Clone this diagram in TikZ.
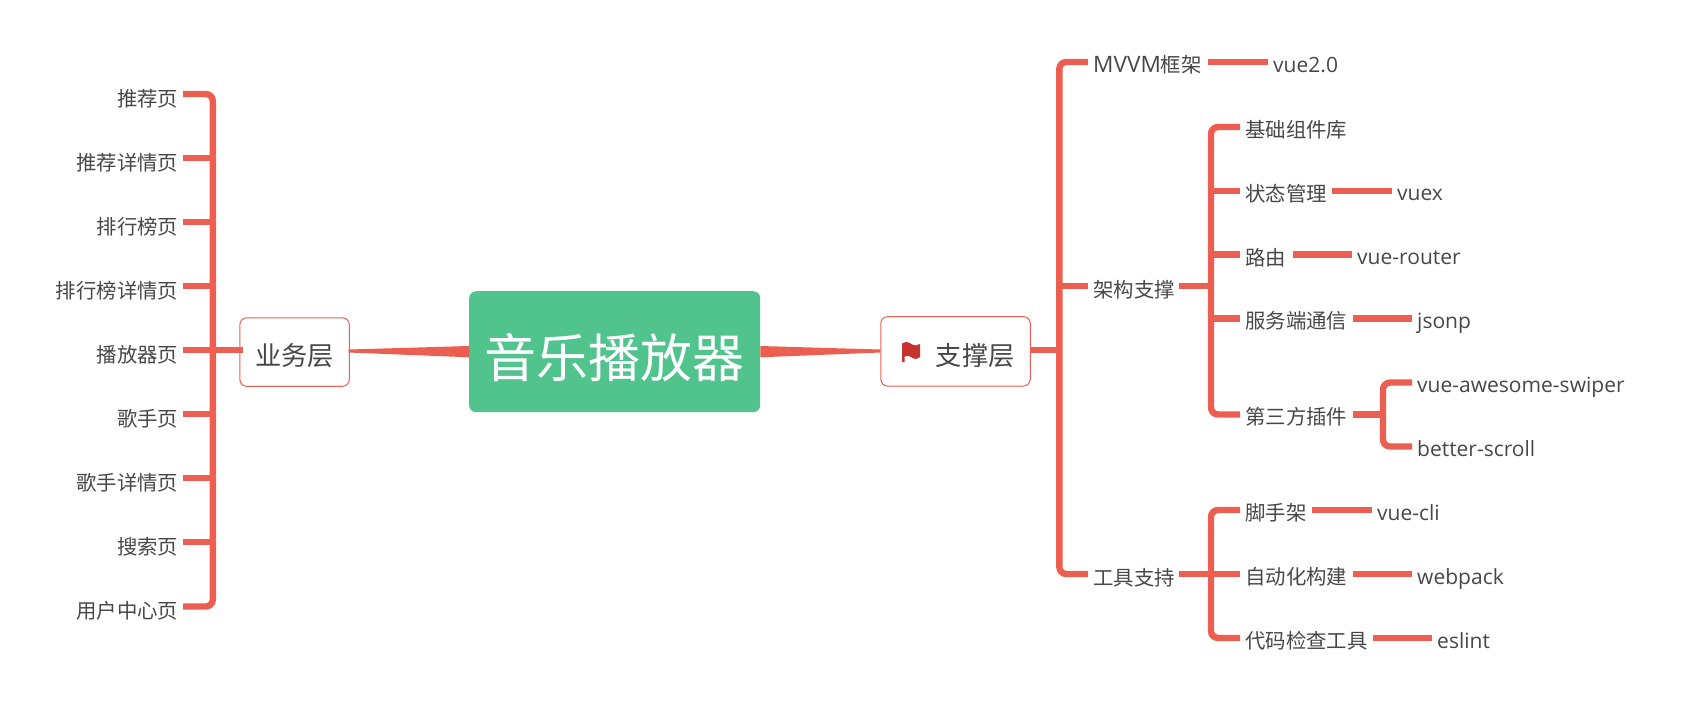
\documentclass[tikz,border=0pt]{standalone}
\usepackage{fontspec}
\setmainfont{Noto Sans CJK SC}
\newfontfamily\latf{Open Sans}
\definecolor{linec}{HTML}{EC5F50}
\definecolor{txtc}{HTML}{474747}
\definecolor{rootc}{HTML}{51C48D}
\definecolor{flagc}{HTML}{C8332F}
\tikzset{
  conn/.style={draw=linec,line width=6.4pt,line cap=butt,line join=round},
  trunk/.style={conn,rounded corners=7pt},
  wedge/.style={fill=linec,draw=none},
  lbl/.style={inner sep=0pt,text=txtc,font=\fontsize{20.4}{24}\selectfont,text height=17.6pt,text depth=2.4pt},
  lble/.style={lbl,anchor=east},
  lblw/.style={lbl,anchor=west},
  latin/.style={lblw,font=\fontsize{21}{24}\selectfont\latf},
  topic/.style={draw=linec,line width=1pt,rounded corners=7pt,fill=white,inner sep=0pt,anchor=north west},
  roottopic/.style={fill=rootc,rounded corners=7pt,inner sep=0pt,anchor=north west,text=white}
}
\begin{document}
\begin{tikzpicture}[x=1pt,y=-1pt]
\useasboundingbox (0,0) rectangle (1688,705);
% central and main topics
\node[roottopic,minimum width=291pt,minimum height=121pt] (root) at (469,291) {};
\node[text=white,inner sep=0pt,font=\fontsize{52}{60}\selectfont] (roottxt) at (614.5,358) {音乐播放器};
\node[topic,minimum width=109.5pt,minimum height=68.5pt] (biz) at (239.3,317.3) {};
\node[lbl,font=\fontsize{26.2}{30}\selectfont,text height=22.5pt,text depth=3pt] (biztxt) at (294.3,356) {业务层};
\node[topic,minimum width=149.5pt,minimum height=69.5pt] (sup) at (880.3,316.1) {};
\node[lbl,font=\fontsize{26.2}{30}\selectfont,text height=22.5pt,text depth=3pt] (suptxt) at (975.2,356) {支撑层};
% flag icon
\fill[flagc] (902,343.5) .. controls (906,341) and (909,342) .. (912,344.5) .. controls (915,346) and (917,345.5) .. (920,344) -- (920,357) .. controls (917,359.5) and (914,359.5) .. (911,357) .. controls (909,355.5) and (907,355.5) .. (904.5,356.5) -- (904.5,362) -- (902,362) -- cycle;
% wedges
\coordinate (wl) at (348.7,351);
\coordinate (wr) at (880.3,351);
\fill[wedge] ([yshift=1.5pt]wl) -- (root.west |- 0,346) -- (root.west |- 0,357.3) -- ([yshift=-1.5pt]wl) -- cycle;
\fill[wedge] ([yshift=1.5pt]wr) -- (root.east |- 0,346) -- (root.east |- 0,357.3) -- ([yshift=-1.5pt]wr) -- cycle;
% left leaves
\node[lble] (l1) at (178.5,98.5) {推荐页};
\node[lble] (l2) at (178.5,162.5) {推荐详情页};
\node[lble] (l3) at (178.5,226.5) {排行榜页};
\node[lble] (l4) at (178.5,290.5) {排行榜详情页};
\node[lble] (l5) at (178.5,354.5) {播放器页};
\node[lble] (l6) at (178.5,418.5) {歌手页};
\node[lble] (l7) at (178.5,482.5) {歌手详情页};
\node[lble] (l8) at (178.5,546.5) {搜索页};
\node[lble] (l9) at (178.5,611) {用户中心页};
\coordinate (lt) at (212.8,0);
\foreach \n/\y in {1/94,2/158,3/222,4/286,5/350,6/414,7/478,8/542,9/606.5}{\coordinate (le\n) at (183,\y);}
\draw[trunk] (le1) -- (lt |- le1) -- (lt |- le9) -- (le9);
\foreach \n in {2,3,4,6,7,8}{\draw[conn] (le\n) -- (lt |- le\n);}
\coordinate (bizstub) at (243,350);
\draw[conn] (le5) -- (bizstub);
% right level 1
\node[lblw] (r1) at (1093,65) {\latf\fontsize{22.6}{24}\selectfont MVVM\rmfamily\fontsize{20.4}{24}\selectfont 框架};
\node[lblw] (r2) at (1093,290) {架构支撑};
\node[lblw] (r3) at (1093,577.5) {工具支持};
\coordinate (rt) at (1059.3,0);
\foreach \n/\y in {1/62,2/286,3/574}{\coordinate (re\n) at (1088,\y);}
\draw[trunk] (re1) -- (rt |- re1) -- (rt |- re3) -- (re3);
\draw[conn] (re2) -- (rt |- re2);
\coordinate (supr) at (1029.7,350);
\draw[conn] (supr) -- (rt |- supr);
% MVVM child
\node[latin] (v1) at (1273,65) {vue2.0};
\coordinate (v1a) at (1208,62);
\coordinate (v1b) at (1268,62);
\draw[conn] (v1a) -- (v1b);
% architecture children
\node[lblw] (a1) at (1245,130) {基础组件库};
\node[lblw] (a2) at (1245,194) {状态管理};
\node[lblw] (a3) at (1245,257.5) {路由};
\node[lblw] (a4) at (1245,321) {服务端通信};
\node[lblw] (a5) at (1245,417) {第三方插件};
\coordinate (at) at (1211,0);
\foreach \n/\y in {1/127,2/191,3/254.5,4/318.5,5/414.5}{\coordinate (ae\n) at (1240,\y);}
\draw[trunk] (ae1) -- (at |- ae1) -- (at |- ae5) -- (ae5);
\foreach \n in {2,3,4}{\draw[conn] (ae\n) -- (at |- ae\n);}
\coordinate (r2s) at (1179,286);
\draw[conn] (r2s) -- (at |- r2s);
% architecture grandchildren
\node[latin] (b2) at (1397,193) {vuex};
\node[latin] (b3) at (1357,256.5) {vue-router};
\node[latin] (b4) at (1417,320.5) {jsonp};
\coordinate (b2a) at (1332,191); \coordinate (b2b) at (1392,191);
\coordinate (b3a) at (1293,254.5); \coordinate (b3b) at (1352,254.5);
\coordinate (b4a) at (1353,318.5); \coordinate (b4b) at (1412,318.5);
\draw[conn] (b2a) -- (b2b);
\draw[conn] (b3a) -- (b3b);
\draw[conn] (b4a) -- (b4b);
% plugins
\node[latin] (p1) at (1417,384.5) {vue-awesome-swiper};
\node[latin] (p2) at (1417,448.5) {better-scroll};
\coordinate (pt) at (1383,0);
\coordinate (p1e) at (1412,382.5);
\coordinate (p2e) at (1412,446.5);
\coordinate (p0) at (1353,414.5);
\draw[trunk] (p1e) -- (pt |- p1e) -- (pt |- p2e) -- (p2e);
\draw[conn] (p0) -- (pt |- p0);
% tools children
\node[lblw] (t1) at (1245,513) {脚手架};
\node[lblw] (t2) at (1245,577) {自动化构建};
\node[lblw] (t3) at (1245,641) {代码检查工具};
\coordinate (tt) at (1211,0);
\foreach \n/\y in {1/510,2/574,3/638}{\coordinate (te\n) at (1240,\y);}
\coordinate (r3s) at (1179,574);
\draw[trunk] (te1) -- (tt |- te1) -- (tt |- te3) -- (te3);
\draw[conn] (r3s) -- (te2);
% tools grandchildren
\node[latin] (c1) at (1377,512.5) {vue-cli};
\node[latin] (c2) at (1417,576.5) {webpack};
\node[latin] (c3) at (1437,640.5) {eslint};
\coordinate (c1a) at (1312,510); \coordinate (c1b) at (1372,510);
\coordinate (c2a) at (1353,574); \coordinate (c2b) at (1412,574);
\coordinate (c3a) at (1372.5,638); \coordinate (c3b) at (1432,638);
\draw[conn] (c1a) -- (c1b);
\draw[conn] (c2a) -- (c2b);
\draw[conn] (c3a) -- (c3b);
\end{tikzpicture}
\end{document}
